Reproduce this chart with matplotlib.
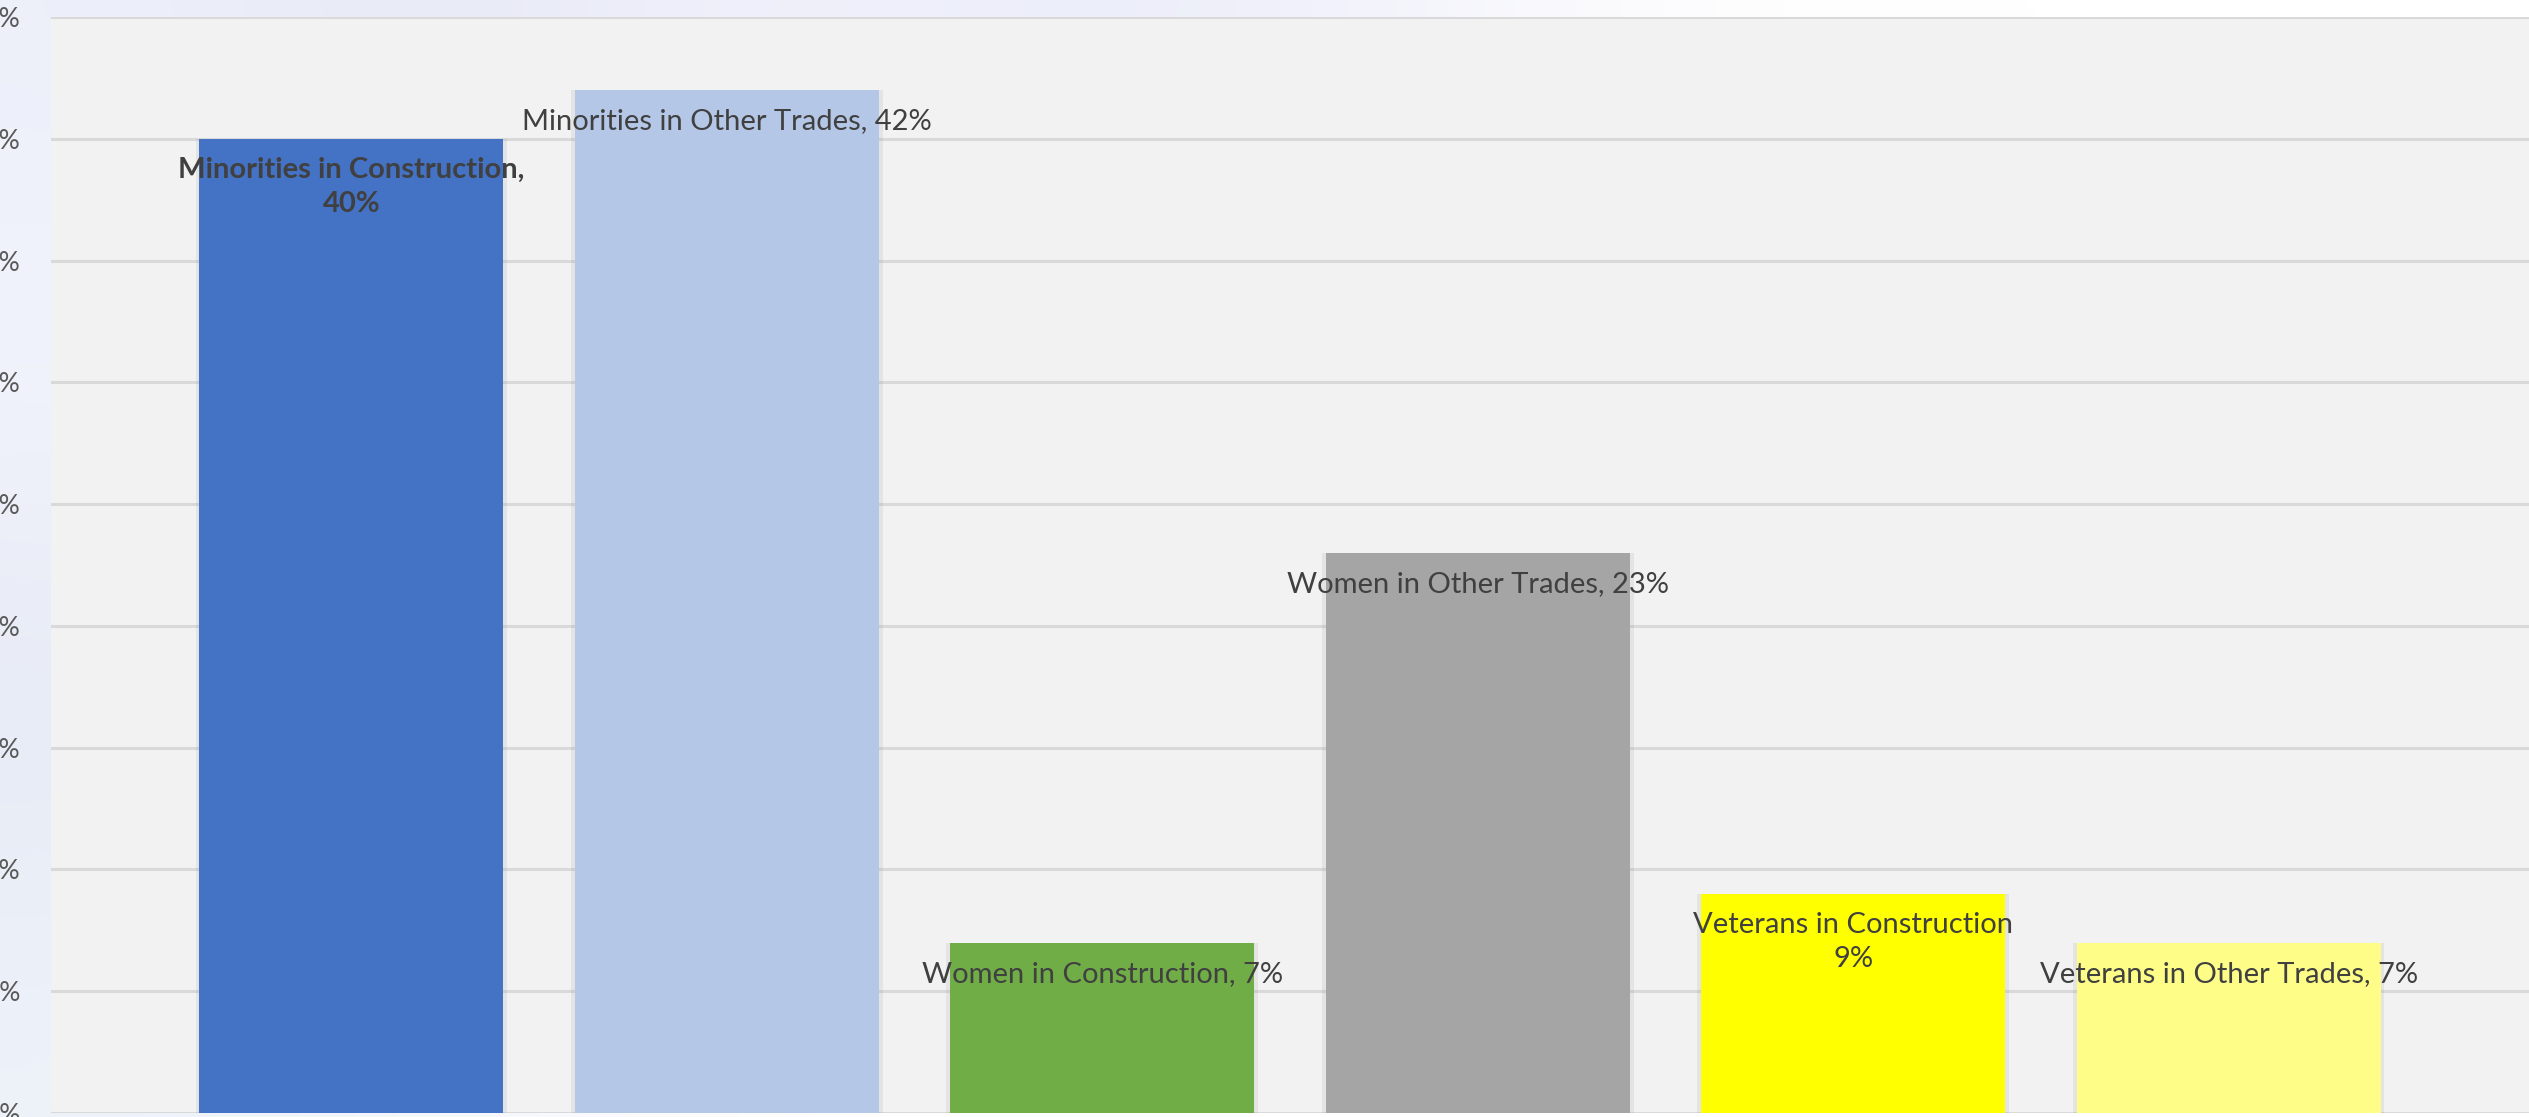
"""Construction workforce share chart"""
import numpy as np
import matplotlib
matplotlib.use('Agg')
import matplotlib.pyplot as plt
from matplotlib.ticker import FuncFormatter

plt.rcParams['font.family'] = ['Lato', 'DejaVu Sans']

# data
categories = ['Minorities in Construction', 'Minorities in Other Trades',
              'Women in Construction', 'Women in Other Trades',
              'Veterans in Construction', 'Veterans in Other Trades']
values = [40, 42, 7, 23, 9, 7]
labels = ['Minorities in Construction,\n40%', 'Minorities in Other Trades, 42%',
          'Women in Construction, 7%', 'Women in Other Trades, 23%',
          'Veterans in Construction\n9%', 'Veterans in Other Trades, 7%']
bold_flags = [True, False, False, False, False, False]
colors = ['#4472C4', '#B4C7E7', '#70AD47', '#A5A5A5', '#FFFF00', '#FDFD88']
yticks = [0, 5, 10, 15, 20, 25, 30, 35, 40, 45]

W, H = 2529, 1117
fig = plt.figure(figsize=(W / 100, H / 100), dpi=100)
fig.patch.set_facecolor('white')

# 背景模糊圖 (左邊與上方)
bg = fig.add_axes([0, 0, 1, 1], zorder=0)
bg_img = np.array([
    [[0.93, 0.94, 0.98], [0.90, 0.91, 0.96], [0.95, 0.95, 0.99], [0.91, 0.92, 0.97],
     [0.96, 0.96, 0.99], [1.0, 1.0, 1.0], [1.0, 1.0, 1.0], [1.0, 1.0, 1.0]],
    [[0.95, 0.96, 0.99], [0.97, 0.97, 0.99], [1.0, 1.0, 1.0], [1.0, 1.0, 1.0],
     [1.0, 1.0, 1.0], [1.0, 1.0, 1.0], [1.0, 1.0, 1.0], [1.0, 1.0, 1.0]],
    [[0.92, 0.93, 0.97], [0.97, 0.97, 1.0], [1.0, 1.0, 1.0], [1.0, 1.0, 1.0],
     [1.0, 1.0, 1.0], [1.0, 1.0, 1.0], [1.0, 1.0, 1.0], [1.0, 1.0, 1.0]],
    [[0.90, 0.92, 0.96], [0.95, 0.96, 0.99], [1.0, 1.0, 1.0], [1.0, 1.0, 1.0],
     [1.0, 1.0, 1.0], [1.0, 1.0, 1.0], [1.0, 1.0, 1.0], [1.0, 1.0, 1.0]],
    [[0.93, 0.95, 0.98], [0.96, 0.97, 0.99], [1.0, 1.0, 1.0], [1.0, 1.0, 1.0],
     [1.0, 1.0, 1.0], [1.0, 1.0, 1.0], [1.0, 1.0, 1.0], [1.0, 1.0, 1.0]],
])
bg.imshow(bg_img, aspect='auto', interpolation='bicubic', extent=[0, 1, 0, 1])
bg.set_axis_off()

ax = fig.add_axes([51 / W, 4 / H, 1 - 51 / W, (1113 - 17) / H], zorder=1)
ax.set_facecolor('#F2F2F2')

x = np.arange(len(categories))
width = 0.81

# 陰影
ax.bar(x, values, width=width + 0.02, color='#7F7F7F', alpha=0.12, zorder=2)
ax.bar(x, values, width=width, color=colors, zorder=3)

for i, (v, lab) in enumerate(zip(values, labels)):
    ax.annotate(lab, (x[i], v), xytext=(0, -13), textcoords='offset points',
                ha='center', va='top', fontsize=21, color='#404040',
                fontweight='bold' if bold_flags[i] else 'normal',
                linespacing=1.38, zorder=5)

ax.set_xlim(-0.8, 5.8)
ax.set_ylim(0, 45)
ax.set_yticks(yticks)
ax.yaxis.set_major_formatter(FuncFormatter(lambda v, p: f'{v:.0f}%'))
ax.tick_params(axis='y', length=0, pad=22, labelsize=19, labelcolor='#595959')
ax.tick_params(axis='x', length=0, labelbottom=False)
ax.grid(True, axis='y', color='#D9D9D9', linewidth=2.2, zorder=1)
ax.set_axisbelow(True)
for s in ax.spines.values():
    s.set_visible(False)

plt.savefig('out.png', dpi=100)
